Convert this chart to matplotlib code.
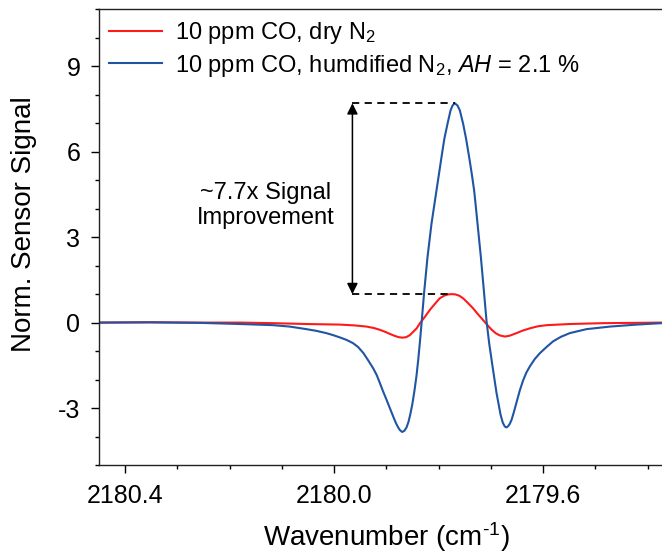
import matplotlib
matplotlib.use("Agg")
import matplotlib.pyplot as plt
from matplotlib.ticker import FixedLocator, MultipleLocator, FormatStrFormatter

plt.rcParams['font.family'] = ['Liberation Sans', 'DejaVu Sans']
plt.rcParams['mathtext.fontset'] = 'custom'
plt.rcParams['mathtext.rm'] = 'Liberation Sans'
plt.rcParams['mathtext.it'] = 'Liberation Sans:italic'
plt.rcParams['mathtext.bf'] = 'Liberation Sans:bold'
plt.rcParams['axes.unicode_minus'] = False

# 2f WMS signal, 10 ppm CO in dry N2
wn_dry = [2180.450, 2180.353, 2180.257, 2180.180, 2180.117, 2180.053, 2179.989,
          2179.960, 2179.938, 2179.924, 2179.913, 2179.903, 2179.893, 2179.885,
          2179.877, 2179.869, 2179.862, 2179.855, 2179.849, 2179.842, 2179.836,
          2179.826, 2179.817, 2179.807, 2179.798, 2179.790, 2179.782, 2179.775,
          2179.768, 2179.760, 2179.753, 2179.744, 2179.734, 2179.725, 2179.715,
          2179.707, 2179.699, 2179.691, 2179.683, 2179.673, 2179.664, 2179.651,
          2179.639, 2179.625, 2179.610, 2179.593, 2179.549, 2179.485, 2179.373,
          2179.338]
sig_dry = [0.00, 0.01, 0.00, 0.00, -0.02, -0.05, -0.07,
           -0.10, -0.14, -0.19, -0.25, -0.32, -0.40, -0.46,
           -0.51, -0.53, -0.51, -0.44, -0.33, -0.20, -0.03,
           0.21, 0.44, 0.66, 0.85, 0.94, 0.99, 1.00,
           0.99, 0.94, 0.85, 0.69, 0.50, 0.30, 0.09,
           -0.08, -0.24, -0.37, -0.45, -0.49, -0.46, -0.37,
           -0.28, -0.20, -0.13, -0.09, -0.05, -0.02, 0.00,
           0.00]

# 2f WMS signal, 10 ppm CO in humidified N2 (AH = 2.1 %)
wn_hum = [2180.4500, 2180.3530, 2180.2570, 2180.1800, 2180.1170, 2180.0850,
          2180.0530, 2180.0340, 2180.0150, 2180.0020, 2179.9890, 2179.9760,
          2179.9640, 2179.9540, 2179.9440, 2179.9350, 2179.9254, 2179.9183,
          2179.9125, 2179.9062, 2179.8997, 2179.8934, 2179.8871, 2179.8819,
          2179.8775, 2179.8743, 2179.8699, 2179.8656, 2179.8614, 2179.8576,
          2179.8542, 2179.8503, 2179.8465, 2179.8423, 2179.8389, 2179.8354,
          2179.8322, 2179.8278, 2179.8212, 2179.8136, 2179.8040, 2179.7945,
          2179.7891, 2179.7830, 2179.7772, 2179.7734, 2179.7690, 2179.7638,
          2179.7594, 2179.7531, 2179.7474, 2179.7416, 2179.7368, 2179.7321,
          2179.7288, 2179.7256, 2179.7192, 2179.7135, 2179.7083, 2179.7033,
          2179.6968, 2179.6892, 2179.6815, 2179.6771, 2179.6733, 2179.6700,
          2179.6666, 2179.6637, 2179.6605, 2179.6561, 2179.6509, 2179.6446,
          2179.6383, 2179.6322, 2179.6255, 2179.6160, 2179.6060, 2179.5930,
          2179.5810, 2179.5660, 2179.5490, 2179.5170, 2179.4720, 2179.4210,
          2179.3730, 2179.3380]
sig_hum = [0.00, 0.01, -0.01, -0.05, -0.09, -0.14,
           -0.23, -0.29, -0.37, -0.44, -0.52, -0.61,
           -0.72, -0.86, -1.07, -1.32, -1.60, -1.85,
           -2.12, -2.42, -2.71, -3.00, -3.29, -3.52,
           -3.68, -3.77, -3.84, -3.80, -3.68, -3.48,
           -3.22, -2.86, -2.42, -1.86, -1.28, -0.60,
           0.08, 1.05, 2.31, 3.48, 4.65, 5.81,
           6.45, 6.98, 7.45, 7.62, 7.70, 7.62,
           7.45, 6.98, 6.45, 5.81, 5.25, 4.65,
           4.07, 3.48, 2.31, 1.14, 0.05, -0.72,
           -1.54, -2.47, -3.23, -3.52, -3.65, -3.68,
           -3.63, -3.55, -3.42, -3.15, -2.80, -2.38,
           -2.03, -1.76, -1.54, -1.28, -1.07, -0.85,
           -0.66, -0.50, -0.37, -0.23, -0.14, -0.07,
           -0.02, -0.01]

label_dry = '10 ppm CO, dry N$_2$'
label_hum = '10 ppm CO, humdified N$_2$, $AH$ = 2.1 %'
x_major = [2180.4, 2180.0, 2179.6]
y_major = [-3, 0, 3, 6, 9]

fig = plt.figure(figsize=(6.62, 5.55), dpi=100)
ax = fig.add_axes([0.14955, 0.16216, 0.8682, 0.8211])

ax.plot(wn_dry, sig_dry, color='#ff1a1a', lw=1.5, label=label_dry)
ax.plot(wn_hum, sig_hum, color='#1f55a3', lw=1.5, label=label_hum)

ax.set_xlim(2180.45, 2179.35)
ax.set_ylim(-5, 11)

ax.xaxis.set_major_locator(FixedLocator(x_major))
ax.xaxis.set_minor_locator(MultipleLocator(0.1))
ax.xaxis.set_major_formatter(FormatStrFormatter('%.1f'))
ax.yaxis.set_major_locator(FixedLocator(y_major))
ax.yaxis.set_minor_locator(MultipleLocator(1))

ax.tick_params(which='both', direction='out', width=1.0, colors='black',
               labelsize=18, top=False, right=False)
ax.tick_params(which='major', length=5.5)
ax.tick_params(which='minor', length=3.2)
ax.tick_params(axis='x', which='major', pad=8)
ax.tick_params(axis='y', which='major', pad=8)
for s in ax.spines.values():
    s.set_linewidth(1.0)
    s.set_color('#222222')

ax.set_xlabel('Wavenumber (cm$^{\\text{-1}}$)', fontsize=20, labelpad=9)
ax.set_ylabel('Norm. Sensor Signal', fontsize=20)
ax.yaxis.set_label_coords(-0.108, 0.528)

# improvement marker between the two peak maxima
peak_dry = max(sig_dry)
peak_hum = max(sig_hum)
x_peak_dry = wn_dry[sig_dry.index(peak_dry)]
x_peak_hum = wn_hum[sig_hum.index(peak_hum)]
x_arrow = 2179.965
ax.plot([x_arrow, x_peak_hum], [peak_hum, peak_hum], color='black', lw=1.3,
        ls=(0, (4, 3)))
ax.plot([x_arrow, x_peak_dry], [peak_dry, peak_dry], color='black', lw=1.3,
        ls=(0, (4, 3)))
ax.annotate('', xy=(x_arrow, peak_hum), xytext=(x_arrow, peak_dry),
            arrowprops=dict(arrowstyle='<|-|>', color='black', lw=1.1,
                            mutation_scale=16, shrinkA=0, shrinkB=0))
ax.text(2180.131, 4.12, '~%.1fx Signal\nImprovement' % (peak_hum / peak_dry),
        ha='center', va='center', fontsize=17, linespacing=1.2)

ax.legend(loc='upper left', bbox_to_anchor=(109 / 662, 1 - 20 / 555),
          bbox_transform=fig.transFigure, frameon=False, borderpad=0,
          borderaxespad=0, handlelength=2.25, handletextpad=0.55,
          labelspacing=0.28, fontsize=17)

fig.savefig('out.png', dpi=100)
